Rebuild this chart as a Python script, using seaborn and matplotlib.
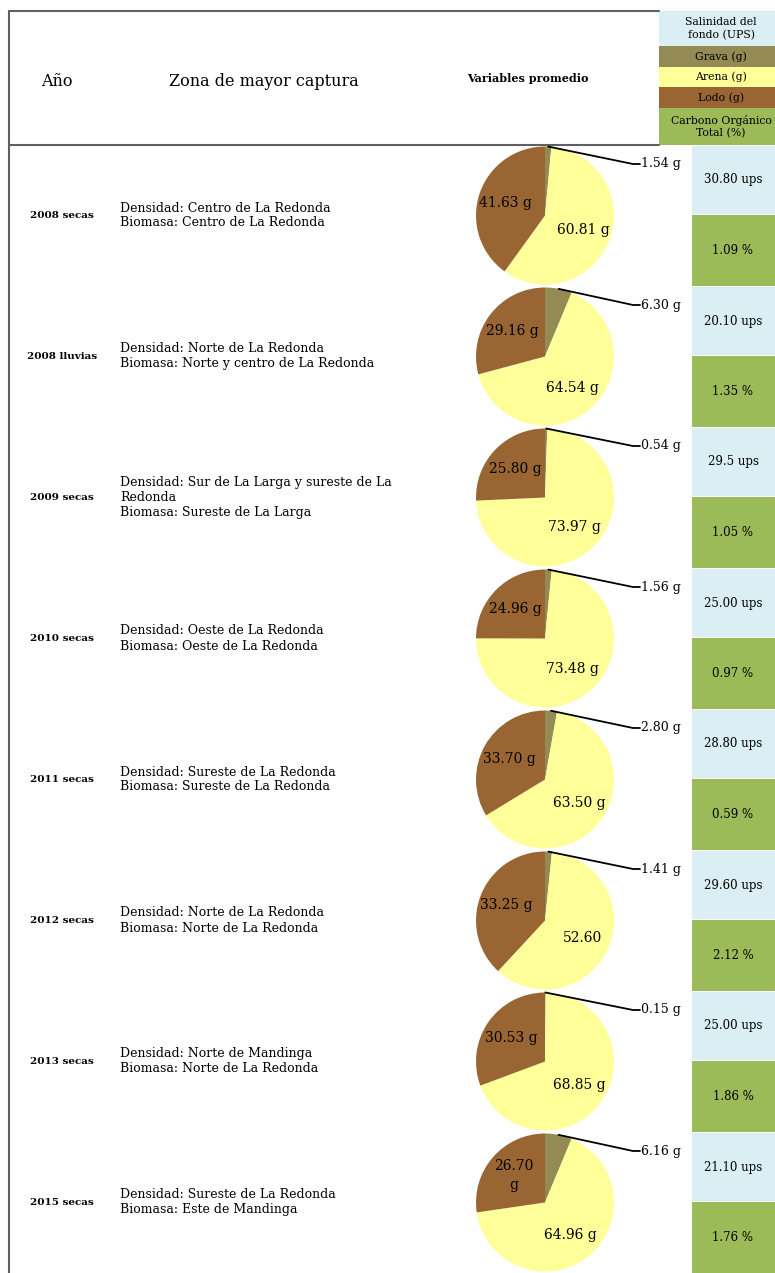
import numpy as np
import matplotlib
matplotlib.use("Agg")
import matplotlib.pyplot as plt
from matplotlib.patches import Rectangle
import seaborn as sns

sns.set_theme(style="white")
plt.rcParams['font.family'] = ['DejaVu Serif']
plt.rcParams['text.color'] = 'black'

#==============================================================================
#                              Data
#==============================================================================
anios = ["2008 secas", "2008 lluvias", "2009 secas", "2010 secas",
         "2011 secas", "2012 secas", "2013 secas", "2015 secas"]

zonas = ["Densidad: Centro de La Redonda\nBiomasa: Centro de La Redonda",
         "Densidad: Norte de La Redonda\nBiomasa: Norte y centro de La Redonda",
         "Densidad: Sur de La Larga y sureste de La\nRedonda\nBiomasa: Sureste de La Larga",
         "Densidad: Oeste de La Redonda\nBiomasa: Oeste de La Redonda",
         "Densidad: Sureste de La Redonda\nBiomasa: Sureste de La Redonda",
         "Densidad: Norte de La Redonda\nBiomasa: Norte de La Redonda",
         "Densidad: Norte de Mandinga\nBiomasa: Norte de La Redonda",
         "Densidad: Sureste de La Redonda\nBiomasa: Este de Mandinga"]

grava = [1.54, 6.30, 0.54, 1.56, 2.80, 1.41, 0.15, 6.16]
arena = [60.81, 64.54, 73.97, 73.48, 63.50, 52.60, 68.85, 64.96]
lodo = [41.63, 29.16, 25.80, 24.96, 33.70, 33.25, 30.53, 26.70]

grava_lbl = ["1.54 g", "6.30 g", "0.54 g", "1.56 g", "2.80 g", "1.41 g", "0.15 g", "6.16 g"]
arena_lbl = ["60.81 g", "64.54 g", "73.97 g", "73.48 g", "63.50 g", "52.60", "68.85 g", "64.96 g"]
lodo_lbl = ["41.63 g", "29.16 g", "25.80 g", "24.96 g", "33.70 g", "33.25 g", "30.53 g", "26.70\ng"]

salinidad_lbl = ["30.80 ups", "20.10 ups", "29.5 ups", "25.00 ups",
                 "28.80 ups", "29.60 ups", "25.00 ups", "21.10 ups"]
carbono_lbl = ["1.09 %", "1.35 %", "1.05 %", "0.97 %", "0.59 %", "2.12 %", "1.86 %", "1.76 %"]

header_cells = ["Salinidad del\nfondo (UPS)", "Grava (g)", "Arena (g)", "Lodo (g)",
                "Carbono Orgánico\nTotal (%)"]

#==============================================================================
#                              Colours / layout
#==============================================================================
c_grava = "#948A54"
c_arena = "#FFFF99"
c_lodo = "#996633"
c_blue = "#DAEEF3"
c_green = "#9BBB59"
header_colors = [c_blue, c_grava, c_arena, c_lodo, c_green]
header_bounds = [11, 46, 67, 87, 108, 145]

W, H = 775, 1273
row_h = 141
row0 = 145
cx, r = 545, 69
border = "#606060"

fig = plt.figure(figsize=(W / 100, H / 100), dpi=100)
ax = fig.add_axes([0, 0, 1, 1])


def Y(p):
    return H - p


# table frame
ax.plot([9, 659], [Y(11), Y(11)], color=border, lw=1.5)
ax.plot([9, 659], [Y(145), Y(145)], color=border, lw=1.5)
ax.plot([9, 9], [Y(11), Y(H)], color=border, lw=1.5)

# header
ax.text(57, Y(82), "Año", fontsize=11.5, ha="center", va="center")
ax.text(264, Y(82), "Zona de mayor captura", fontsize=11.5, ha="center", va="center")
ax.text(528, Y(78), "Variables promedio", fontsize=8, fontweight="bold",
        ha="center", va="center")

for k, lab in enumerate(header_cells):
    y0, y1 = header_bounds[k], header_bounds[k + 1]
    ax.add_patch(Rectangle((659, Y(y1)), W - 659, y1 - y0, color=header_colors[k], lw=0))
    ax.text(721, Y((y0 + y1) / 2), lab, fontsize=7.8, ha="center", va="center",
            linespacing=1.3)

# rows
for i in range(len(anios)):
    top = row0 + i * row_h
    yc = Y(top + row_h / 2)

    ax.text(62, yc, anios[i], fontsize=7.5, fontweight="bold", ha="center", va="center")
    ax.text(120, yc, zonas[i], fontsize=9, ha="left", va="center")

    vals = [grava[i], arena[i], lodo[i]]
    labs = iter(["", arena_lbl[i], lodo_lbl[i]])
    ax.pie(vals, colors=[c_grava, c_arena, c_lodo], startangle=90, counterclock=False,
           center=(cx, yc), radius=r, autopct=lambda p: next(labs), pctdistance=0.6,
           wedgeprops=dict(linewidth=0), textprops=dict(fontsize=10, linespacing=1.4))

    # leader line for grava
    tot = sum(vals)
    th = np.deg2rad(90 - 360 * grava[i] / tot / 2)
    yl = Y(top + 19)
    ax.plot([cx + r * np.cos(th), cx + 88, cx + 95],
            [yc + r * np.sin(th), yl, yl], color="black", lw=1.3)
    ax.text(cx + 96, yl, grava_lbl[i], fontsize=9, ha="left", va="center")

    # cells
    ax.add_patch(Rectangle((692, Y(top + 69)), W - 692, 68, color=c_blue, lw=0))
    ax.add_patch(Rectangle((692, Y(top + row_h)), W - 692, row_h - 70, color=c_green, lw=0))
    ax.text(733, Y(top + 35), salinidad_lbl[i], fontsize=8.5, ha="center", va="center")
    ax.text(733, Y(top + 105.5), carbono_lbl[i], fontsize=8.5, ha="center", va="center")

ax.set_aspect("auto")
ax.set_xlim(0, W)
ax.set_ylim(0, H)
ax.axis("off")

fig.savefig("out.png", dpi=100, facecolor="white")
